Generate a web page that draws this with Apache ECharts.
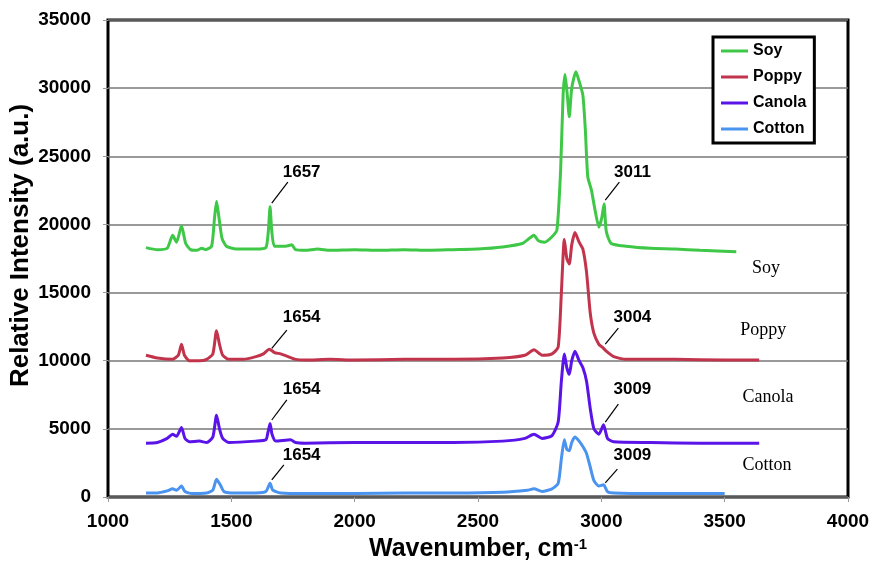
<!DOCTYPE html>
<html>
<head>
<meta charset="utf-8">
<script src="https://cdn.jsdelivr.net/npm/echarts@6/dist/echarts.min.js"></script>
<style>html,body{margin:0;padding:0;background:#fff}#c{width:872px;height:563px}</style>
</head>
<body>
<div id="c"></div>
<script>
const seriesNames = ['Soy', 'Poppy', 'Canola', 'Cotton'];
const colors = ['#3fc847', '#c2344b', '#5a14e8', '#4a93ee'];

const soy = [[1154,18300],[1200,18150],[1240,18250],[1262,19200],[1278,18700],[1298,19900],[1315,18600],[1335,18150],[1360,18100],[1380,18250],[1395,18150],[1420,18400],[1432,20500],[1440,21700],[1450,20500],[1462,19000],[1480,18400],[1520,18200],[1600,18200],[1640,18300],[1650,19500],[1657,21300],[1664,19500],[1675,18400],[1720,18400],[1745,18500],[1760,18150],[1800,18100],[1850,18200],[1900,18100],[2000,18150],[2100,18100],[2200,18150],[2300,18100],[2400,18150],[2500,18200],[2600,18350],[2680,18600],[2710,19000],[2727,19200],[2745,18800],[2770,18700],[2800,19100],[2820,19600],[2835,24000],[2845,29500],[2853,31000],[2862,29500],[2870,27900],[2880,30000],[2897,31200],[2910,30500],[2925,29500],[2935,27000],[2945,23500],[2960,22500],[2975,21000],[2990,19800],[3002,20500],[3011,21500],[3020,19500],[3040,18600],[3100,18400],[3200,18250],[3300,18200],[3400,18100],[3547,18000]];

const poppy = [[1154,10400],[1200,10200],[1260,10100],[1285,10400],[1298,11200],[1310,10400],[1330,10000],[1370,10000],[1400,10100],[1425,10500],[1440,12200],[1452,11200],[1465,10400],[1490,10100],[1550,10100],[1600,10300],[1630,10500],[1654,10850],[1675,10600],[1700,10500],[1730,10300],[1760,10100],[1800,10050],[1900,10100],[2000,10050],[2200,10100],[2400,10100],[2600,10200],[2690,10400],[2727,10800],[2760,10400],[2800,10500],[2825,11000],[2838,15000],[2850,18900],[2860,17500],[2870,17100],[2880,18500],[2893,19400],[2910,18700],[2925,18200],[2940,16500],[2955,13500],[2970,12000],[2990,11200],[3004,11000],[3020,10700],[3050,10300],[3100,10100],[3300,10100],[3500,10050],[3640,10050]];

const canola = [[1154,3950],[1200,4000],[1240,4300],[1262,4600],[1278,4450],[1298,5100],[1312,4300],[1330,4050],[1370,4100],[1400,4000],[1425,4400],[1440,6000],[1452,5000],[1465,4300],[1490,4000],[1600,4100],[1640,4200],[1648,4700],[1657,5400],[1665,4600],[1680,4100],[1740,4200],[1760,4000],[1800,3950],[2000,4000],[2200,4000],[2400,4000],[2600,4100],[2690,4300],[2727,4600],[2760,4300],[2800,4500],[2825,5500],[2838,8500],[2850,10500],[2860,9500],[2870,9000],[2880,10000],[2893,10700],[2910,10000],[2925,9500],[2940,8500],[2955,6500],[2970,5000],[2990,4600],[3009,5300],[3025,4300],[3050,4050],[3200,4000],[3400,3950],[3640,3950]];

const cotton = [[1154,300],[1200,300],[1240,450],[1262,600],[1278,500],[1298,800],[1312,400],[1340,250],[1400,300],[1425,500],[1440,1300],[1455,900],[1470,400],[1500,300],[1600,300],[1640,400],[1657,1000],[1668,500],[1700,300],[1800,250],[2000,250],[2200,300],[2400,300],[2600,350],[2700,500],[2727,600],[2760,400],[2800,600],[2825,1000],[2838,2800],[2850,4200],[2860,3500],[2870,3400],[2880,4000],[2893,4400],[2910,4100],[2925,3700],[2940,3200],[2955,2200],[2970,1200],[2990,800],[3009,900],[3025,400],[3050,300],[3200,250],[3500,250]];

// peak annotation labels: [x, y, text]
const peakLabels = [[1785,23840,'1657'],[3126,23840,'3011'],[1785,13200,'1654'],[3126,13200,'3004'],[1785,7920,'1654'],[3126,7920,'3009'],[1785,3080,'1654'],[3126,3080,'3009']];
// leader lines: [x1, y1, x2, y2]
const leaders = [[1664,21570,1729,23110],[3016,21790,3073,23110],[1664,10900,1725,12250],[3016,11220,3069,12400],[1664,5650,1725,7120],[3016,5500,3069,6820],[1664,1250,1713,2350],[3016,1030,3065,2050]];
// side names: [x, y, text]
const sideLabels = [[3668,16800,'Soy'],[3656,12250,'Poppy'],[3676,7340,'Canola'],[3672,2350,'Cotton']];

const xTicks = {min:1000, max:4000, interval:500};
const yTicks = {min:0, max:35000, interval:5000};

const chart = echarts.init(document.getElementById('c'), null, {renderer:'canvas'});
const dataSets = [soy, poppy, canola, cotton];
const series = seriesNames.map((n, i) => ({
  name: n, type: 'line', data: dataSets[i], showSymbol: false, smooth: 0.2,
  lineStyle: {color: colors[i], width: 3}, itemStyle: {color: colors[i]}, z: 3
}));
series.push({
  name: 'leaders', type: 'line', data: [], silent: true,
  markLine: {
    symbol: 'none', silent: true, animation: false,
    lineStyle: {color: '#000', width: 1.2, type: 'solid'},
    label: {show: false},
    data: leaders.map(l => [{coord: [l[0], l[1]]}, {coord: [l[2], l[3]]}])
  }
});
const txtLabel = (fam, size, weight) => ({
  show: true, position: 'inside', formatter: p => p.value[2], color: '#000', opacity: 1,
  textBorderWidth: 0, textBorderColor: 'transparent',
  fontFamily: fam, fontWeight: weight, fontSize: size
});
series.push({
  name: 'peaks', type: 'scatter', data: peakLabels, symbolSize: 1, silent: true, z: 5,
  itemStyle: {color: '#fff', opacity: 0},
  label: txtLabel('Liberation Sans, Arial', 17, 'bold')
});
series.push({
  name: 'side', type: 'scatter', data: sideLabels, symbolSize: 1, silent: true, z: 5,
  itemStyle: {color: '#fff', opacity: 0},
  label: txtLabel('Liberation Serif, Times New Roman, serif', 18, 'normal')
});

chart.setOption({
  animation: false,
  backgroundColor: '#fff',
  grid: {left: 108, right: 24, top: 20, bottom: 66, show: true, borderColor: '#000', borderWidth: 3, containLabel: false, outerBoundsMode: 'none'},
  legend: {
    data: seriesNames, orient: 'vertical', left: 713, top: 37,
    backgroundColor: '#fff', borderColor: '#000', borderWidth: 3,
    padding: [5, 8, 5, 8], itemGap: 8, itemWidth: 27, itemHeight: 3, icon: 'rect',
    textStyle: {fontFamily: 'Liberation Sans, Arial', fontWeight: 'bold', fontSize: 16, color: '#000', lineHeight: 18}
  },
  xAxis: {
    type: 'value', min: xTicks.min, max: xTicks.max, interval: xTicks.interval,
    name: '{a|Wavenumber, cm}{b|-1}', nameLocation: 'middle', nameGap: 40, nameMoveOverlap: false,
    nameTextStyle: {rich: {
      a: {fontFamily: 'Liberation Sans, Arial', fontWeight: 'bold', fontSize: 25, color: '#000'},
      b: {fontFamily: 'Liberation Sans, Arial', fontWeight: 'bold', fontSize: 15, color: '#000', verticalAlign: 'top', padding: [0,0,10,0]}
    }},
    axisLine: {show: false},
    axisTick: {show: true, length: 5, lineStyle: {color: '#999'}},
    axisLabel: {fontFamily: 'Liberation Sans, Arial', fontWeight: 'bold', fontSize: 19, color: '#000', margin: 15, formatter: v => String(v)},
    splitLine: {show: false}
  },
  yAxis: {
    type: 'value', min: yTicks.min, max: yTicks.max, interval: yTicks.interval,
    name: 'Relative Intensity (a.u.)', nameLocation: 'middle', nameGap: 74, nameMoveOverlap: false,
    nameTextStyle: {fontFamily: 'Liberation Sans, Arial', fontWeight: 'bold', fontSize: 26, color: '#000', padding: [0, 0, 0, 26]},
    axisLine: {show: false},
    axisTick: {show: true, length: 5, lineStyle: {color: '#999'}},
    axisLabel: {fontFamily: 'Liberation Sans, Arial', fontWeight: 'bold', fontSize: 19, color: '#000', margin: 17, formatter: v => String(v)},
    splitLine: {show: true, lineStyle: {color: '#777', width: 1.5}}
  },
  series: series
});
</script>
</body>
</html>
